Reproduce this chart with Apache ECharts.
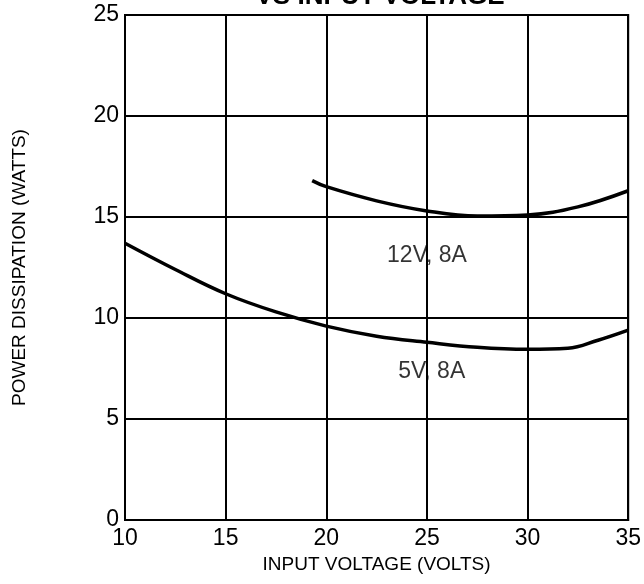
<!DOCTYPE html>
<html>
<head>
<meta charset="utf-8">
<script src="https://cdn.jsdelivr.net/npm/echarts@6/dist/echarts.min.js"></script>
<style>
html,body{margin:0;padding:0;background:#fff;}
#chart{width:644px;height:584px;}
</style>
</head>
<body>
<div id="chart"></div>
<script>
// Data
var titleText = 'VS INPUT VOLTAGE';
var xAxisName = 'INPUT VOLTAGE (VOLTS)';
var yAxisName = 'POWER DISSIPATION (WATTS)';
var xTicks = [10, 15, 20, 25, 30, 35];
var yTicks = [0, 5, 10, 15, 20, 25];

var v5x = [10, 12.5, 15, 17.5, 20, 22.5, 25, 27.5, 30, 32, 33.5, 35];
var v5y = [13.7, 12.4, 11.2, 10.3, 9.6, 9.1, 8.8, 8.55, 8.45, 8.5, 8.9, 9.4];

var v12x = [19.3, 20, 22.5, 25, 27.5, 30, 32.5, 35];
var v12y = [16.8, 16.5, 15.8, 15.3, 15.05, 15.1, 15.5, 16.3];

var labelNames = ['12V, 8A', '5V, 8A'];
var labelX = [25, 25.24];
var labelY = [13.1, 7.33];

function zip(a, b) { return a.map(function (v, i) { return [v, b[i]]; }); }

var font = '"Liberation Sans", Arial, Helvetica, sans-serif';
var chart = echarts.init(document.getElementById('chart'));
chart.setOption({
  backgroundColor: '#ffffff',
  animation: false,
  graphic: [{
    type: 'text',
    x: 380, y: 10,
    style: {
      text: titleText, align: 'center', verticalAlign: 'bottom',
      font: 'bold 26px ' + font, fill: '#000'
    }
  }],
  grid: { left: 125, right: 12, top: 15, bottom: 64, show: true, borderColor: '#000', borderWidth: 2 },
  xAxis: {
    type: 'value',
    min: xTicks[0], max: xTicks[xTicks.length - 1], interval: 5,
    name: xAxisName, nameLocation: 'middle', nameGap: 35,
    nameTextStyle: { fontFamily: font, fontSize: 19, color: '#000' },
    axisLine: { show: true, lineStyle: { color: '#000', width: 2 } },
    axisTick: { show: false },
    axisLabel: { fontFamily: font, fontSize: 23, color: '#000', margin: 7 },
    splitLine: { show: true, lineStyle: { color: '#000', width: 2 } }
  },
  yAxis: {
    type: 'value',
    min: yTicks[0], max: yTicks[yTicks.length - 1], interval: 5,
    name: yAxisName, nameLocation: 'middle', nameGap: 96,
    nameTextStyle: { fontFamily: font, fontSize: 19, color: '#000' },
    axisLine: { show: true, lineStyle: { color: '#000', width: 2 } },
    axisTick: { show: false },
    axisLabel: { fontFamily: font, fontSize: 23, color: '#000', margin: 6 },
    splitLine: { show: true, lineStyle: { color: '#000', width: 2 } }
  },
  series: [
    {
      type: 'line', name: '5V, 8A', data: zip(v5x, v5y), smooth: 0.4,
      showSymbol: false, lineStyle: { color: '#000', width: 3.5 }
    },
    {
      type: 'line', name: '12V, 8A', data: zip(v12x, v12y), smooth: 0.4,
      showSymbol: false, lineStyle: { color: '#000', width: 3.5 }
    },
    {
      type: 'scatter', symbolSize: 0,
      data: labelNames.map(function (n, i) { return { name: n, value: [labelX[i], labelY[i]] }; }),
      label: {
        show: true, position: 'inside', formatter: '{b}',
        fontFamily: font, fontSize: 23, color: '#000', textBorderWidth: 0
      },
      silent: true
    }
  ]
});
</script>
</body>
</html>
